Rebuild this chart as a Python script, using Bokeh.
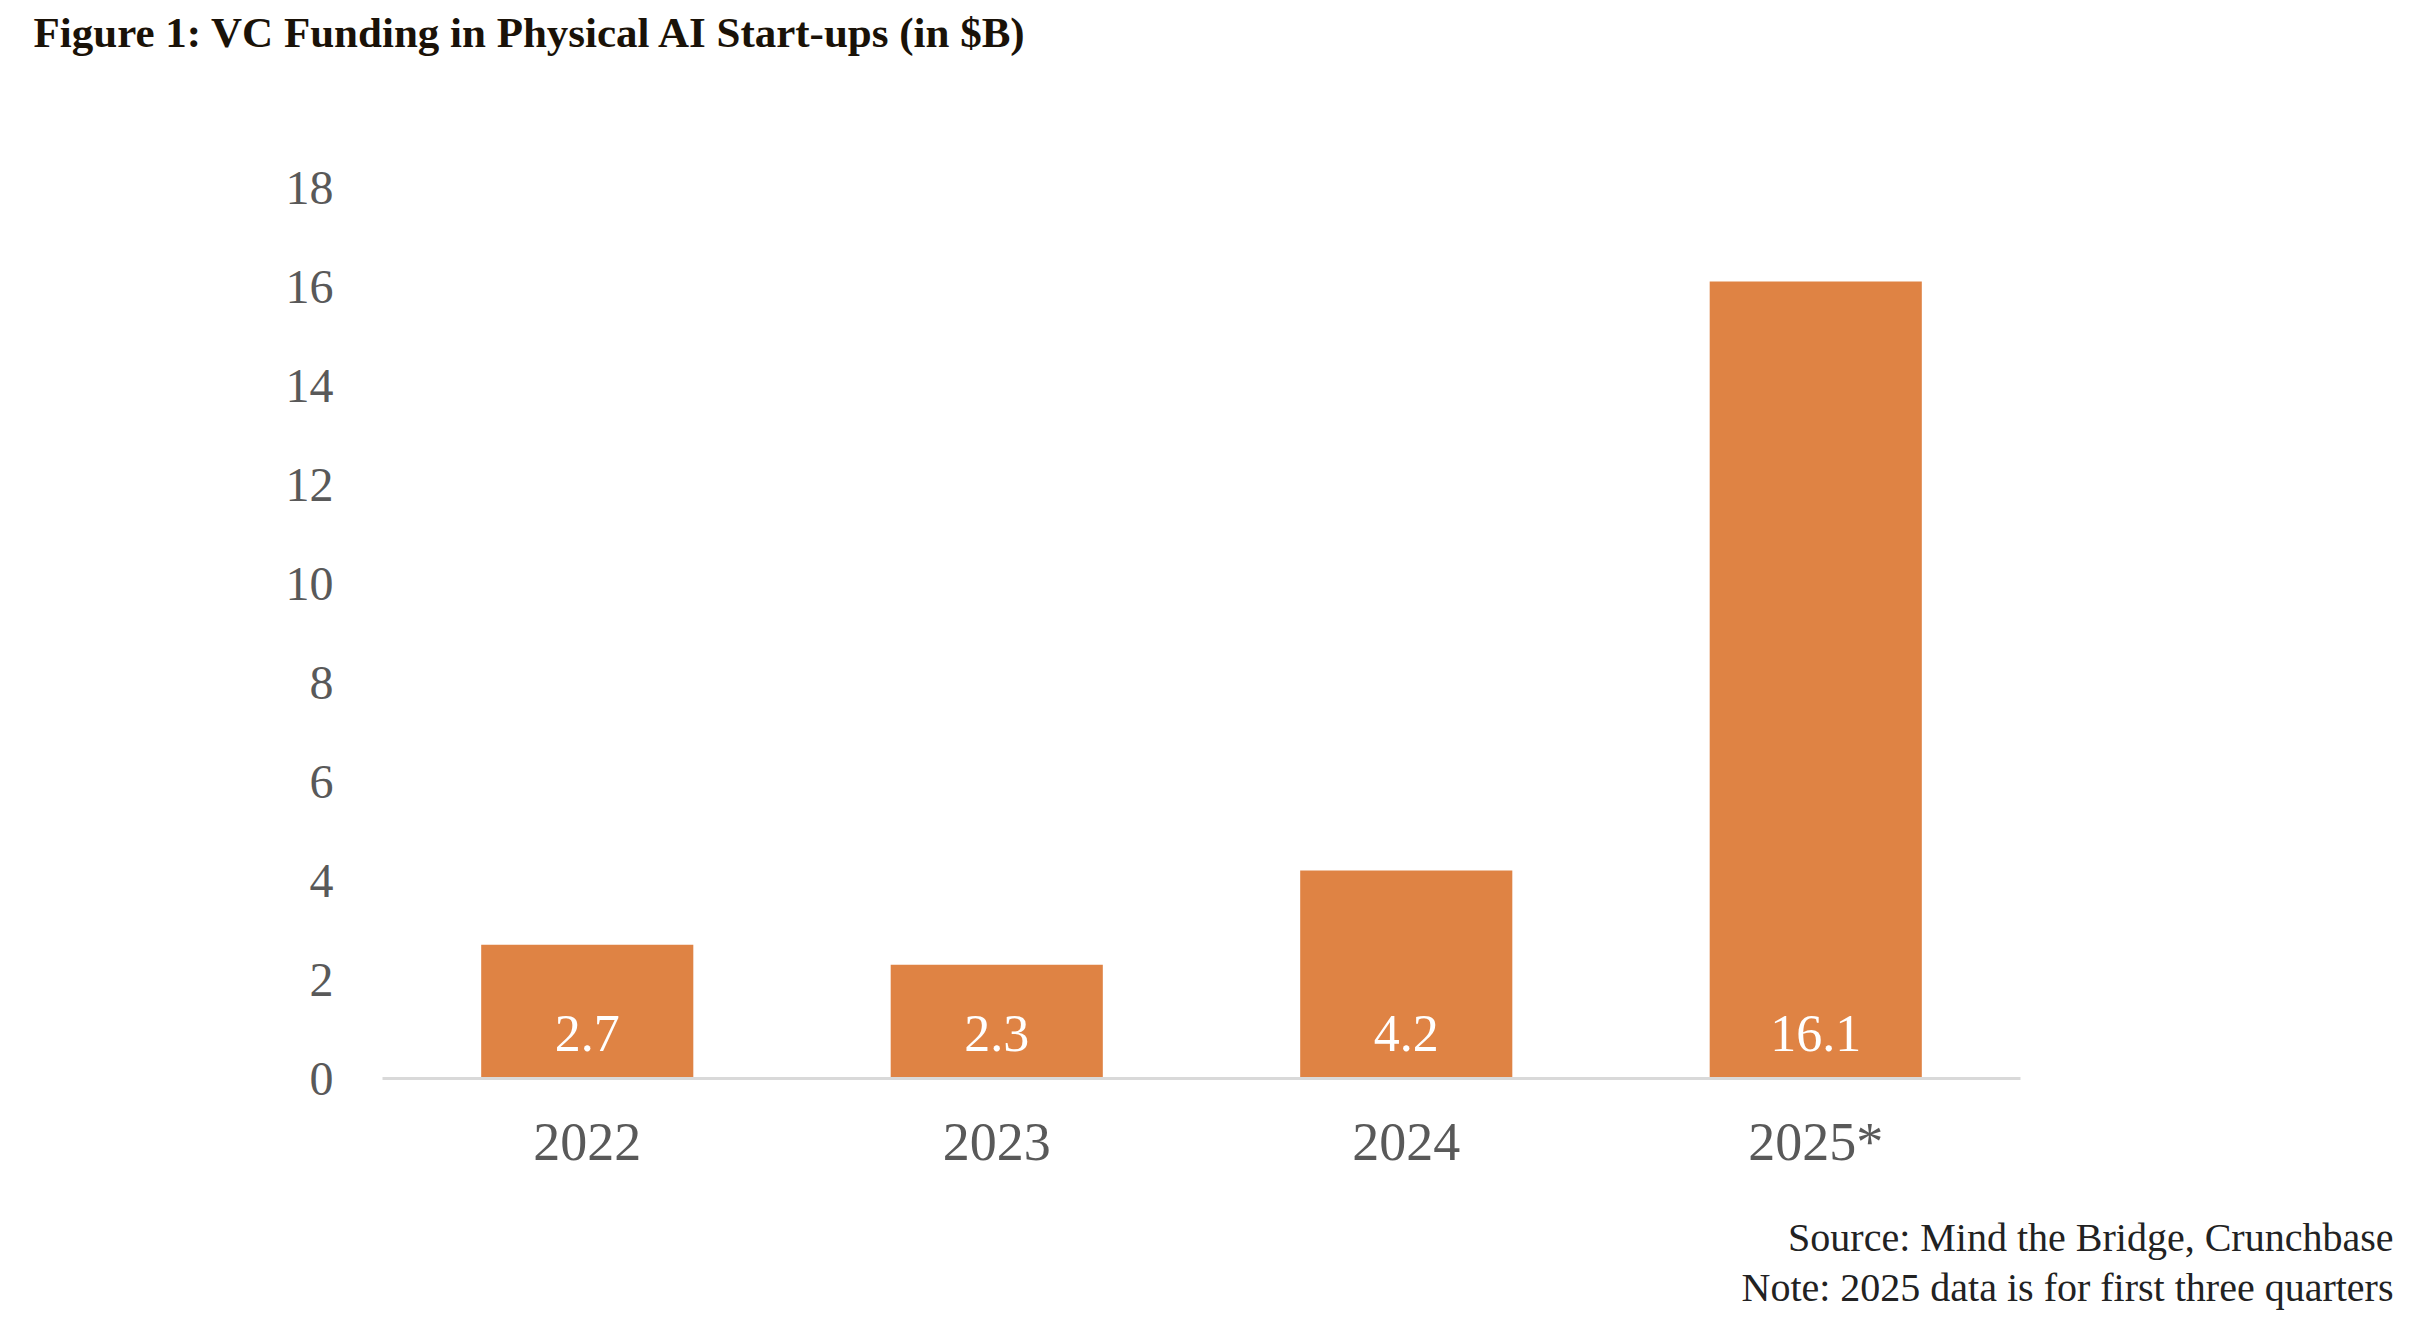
from bokeh.plotting import figure
from bokeh.models import Range1d, FixedTicker, Title
from bokeh.layouts import column
from bokeh.core.properties import value
from bokeh.embed import file_html
from bokeh.resources import INLINE

# ---- data ----
years = ["2022", "2023", "2024", "2025*"]
funding = [2.7, 2.3, 4.2, 16.1]
y_ticks = [0, 2, 4, 6, 8, 10, 12, 14, 16, 18]
title_text = "Figure 1: VC Funding in Physical AI Start-ups (in $B)"
source_text = "Source: Mind the Bridge, Crunchbase"
note_text = "Note: 2025 data is for first three quarters"

SERIF = "Liberation Serif"
BAR_COLOR = "#DF8344"
TICK_COLOR = "#595959"
W = 2420
FRAME_L = 382
FRAME_R = 2020


def text_strip(height):
    f = figure(
        width=W, height=height,
        x_range=Range1d(0, 1), y_range=Range1d(0, 1),
        output_backend="svg", toolbar_location=None,
        x_axis_location=None, y_axis_location=None,
        min_border=0,
    )
    f.outline_line_color = None
    f.grid.visible = False
    f.background_fill_color = "white"
    f.border_fill_color = "white"
    return f


# ---- title strip ----
H1 = 100
ft = text_strip(H1)
ft.title = Title(
    text=title_text, align="left", vertical_align="middle",
    offset=-349, standoff=14,
    text_font=SERIF, text_font_style="bold", text_font_size="43px",
    text_color="#1A1208",
)

# ---- main chart ----
H2 = 1100
p = figure(
    x_range=years,
    y_range=Range1d(0, 18),
    width=W,
    height=H2,
    output_backend="svg",
    toolbar_location=None,
    min_border_left=FRAME_L,
    min_border_right=W - FRAME_R,
    min_border_top=87,
    min_border_bottom=122,
)
p.outline_line_color = None
p.background_fill_color = "white"
p.border_fill_color = "white"
p.xgrid.grid_line_color = None
p.ygrid.grid_line_color = None

p.vbar(x=years, top=funding, width=0.518, fill_color=BAR_COLOR, line_color=None)

labels = [f"{v}" for v in funding]
p.text(
    x=years,
    y=[0.91] * len(years),
    text=labels,
    text_font=value(SERIF),
    text_font_size="52px",
    text_color="white",
    text_align="center",
    text_baseline="alphabetic",
)

p.yaxis.ticker = FixedTicker(ticks=y_ticks)
p.yaxis.axis_line_color = None
p.yaxis.major_tick_line_color = None
p.yaxis.minor_tick_line_color = None
p.yaxis.major_label_standoff = 43
p.yaxis.major_label_text_font = SERIF
p.yaxis.major_label_text_font_size = "48px"
p.yaxis.major_label_text_color = TICK_COLOR

p.xaxis.axis_line_color = "#D9D9D9"
p.xaxis.axis_line_width = 3
p.xaxis.major_tick_line_color = None
p.xaxis.minor_tick_line_color = None
p.xaxis.major_label_standoff = 27
p.xaxis.major_label_text_font = SERIF
p.xaxis.major_label_text_font_size = "54px"
p.xaxis.major_label_text_color = TICK_COLOR

# ---- notes strip ----
H3 = 112
fn = text_strip(H3)
for txt, so in ((source_text, 2), (note_text, 4)):
    fn.add_layout(Title(
        text=txt, align="right", vertical_align="middle",
        offset=-373, standoff=so,
        text_font=SERIF, text_font_size="40px", text_font_style="normal",
        text_color="#222222",
    ), "below")

layout = column(ft, p, fn, spacing=0)
open("out.html", "w").write(file_html(layout, INLINE))
